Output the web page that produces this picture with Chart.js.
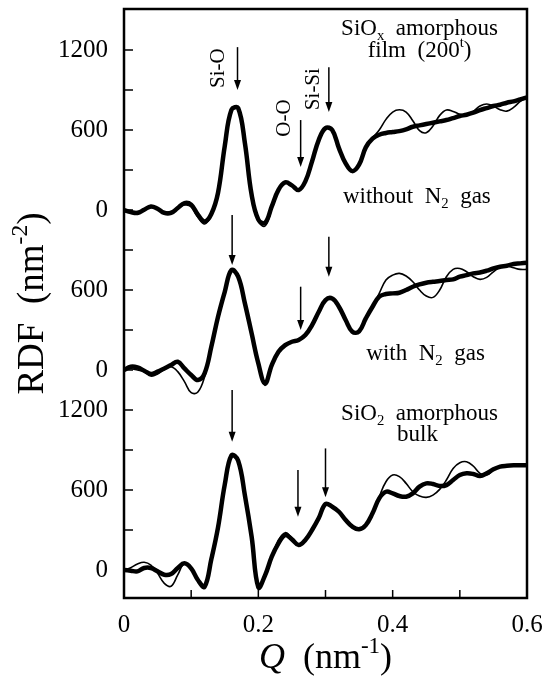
<!DOCTYPE html>
<html>
<head>
<meta charset="utf-8">
<title>RDF of SiOx films</title>
<script src="https://cdn.jsdelivr.net/npm/chart.js"></script>
<style>
  html, body { margin: 0; padding: 0; background: #fff; }
  canvas { display: block; }
</style>
</head>
<body>
<canvas id="rdfChart" width="549" height="691"></canvas>
<script>
// Q values (nm^-1), shared by every curve
const q = [
  0.00, 0.01, 0.02, 0.03, 0.04, 0.05, 0.06, 0.07, 0.08, 0.09,
  0.10, 0.11, 0.12, 0.13, 0.14, 0.15, 0.16, 0.17, 0.18, 0.19,
  0.20, 0.21, 0.22, 0.23, 0.24, 0.25, 0.26, 0.27, 0.28, 0.29,
  0.30, 0.31, 0.32, 0.33, 0.34, 0.35, 0.36, 0.37, 0.38, 0.39,
  0.40, 0.41, 0.42, 0.43, 0.44, 0.45, 0.46, 0.47, 0.48, 0.49,
  0.50, 0.51, 0.52, 0.53, 0.54, 0.55, 0.56, 0.57, 0.58, 0.59, 0.60,
];

// SiOx film without N2 gas (top)
const topExp = [
  0, -15, -22, 2, 27, 10, -22, -22, 15, 52, 40,
  -35, -85, -30, 130, 480, 752, 765, 502, 115, -72,
  -97, 27, 152, 207, 185, 150, 215, 365, 527, 615,
  600, 465, 350, 292, 340, 470, 535, 565, 578, 585,
  592, 605, 625, 635, 645, 655, 665, 675, 690, 705,
  715, 730, 750, 765, 780, 790, 805, 815, 830, 845,
];
const topCalc = [
  0, -10, -12, 5, 20, 10, -12, -12, 10, 38, 25,
  -55, -105, -40, 120, 475, 752, 765, 502, 110, -85,
  -120, 10, 148, 207, 185, 150, 215, 365, 527, 615,
  600, 465, 350, 292, 340, 470, 540, 600, 680, 735,
  752, 735, 670, 595, 580, 630, 710, 750, 740, 718,
  712, 740, 780, 795, 780, 752, 742, 770, 815, 845,
];

// SiOx film with N2 gas (middle)
const midExp = [
  0, 25, 20, -5, -30, -12, 12, 37, 62, 12, -37,
  -75, -25, 174, 400, 587, 750, 700, 500, 275, 50,
  -100, 37, 137, 187, 212, 225, 262, 337, 437, 525,
  537, 475, 375, 287, 290, 387, 475, 550, 570, 575,
  580, 600, 625, 642, 655, 662, 667, 675, 680, 700,
  712, 725, 732, 745, 762, 775, 782, 795, 800, 805,
];
const midCalc = [
  0, 10, 0, -12, -45, -30, 5, 25, -12, -87, -170,
  -165, -50, 162, 400, 587, 750, 700, 500, 275, 40,
  -115, 25, 137, 187, 212, 225, 262, 337, 437, 525,
  537, 475, 375, 287, 290, 387, 475, 575, 675, 712,
  725, 705, 662, 600, 555, 545, 600, 700, 755, 762,
  737, 700, 680, 695, 737, 770, 780, 767, 755, 755,
];

// SiO2 amorphous bulk (bottom)
const botExp = [
  0, -5, -10, 15, 15, -10, -35, -30, 15, 50, 12,
  -75, -125, 80, 320, 640, 860, 820, 560, 250, -130,
  -40, 100, 200, 262, 230, 187, 225, 300, 390, 495,
  475, 437, 375, 325, 305, 337, 425, 537, 587, 575,
  555, 550, 575, 625, 650, 645, 630, 637, 675, 712,
  725, 720, 705, 725, 755, 775, 782, 785, 785, 785,
];
const botCalc = [
  0, 17, 45, 58, 37, -25, -100, -122, -37, 50, 12,
  -75, -125, 80, 320, 640, 860, 820, 560, 250, -130,
  -40, 100, 225, 280, 240, 187, 225, 300, 390, 495,
  475, 437, 375, 325, 305, 337, 425, 550, 662, 712,
  700, 650, 587, 555, 545, 562, 605, 675, 762, 805,
  812, 780, 725, 712, 750, 780, 787, 787, 787, 787,
];

// vertical shift of each panel on the shared y axis
const panelOffsets = [2700, 1500, 0];

// tick values / labels
const xTickValues = [0, 0.1, 0.2, 0.3, 0.4, 0.5, 0.6];
const xTickLabels = ['0', '', '0.2', '', '0.4', '', '0.6'];
const yTickValues = [0, 300, 600, 900, 1200, 1500, 1800, 2100, 2400, 2700, 3000, 3300, 3600, 3900];
const yTickLabels = ['0', '', '600', '', '1200', '0', '', '600', '', '0', '', '600', '', '1200'];

// peak arrows (Q, from, to on the shifted axis)
const arrowQ = [0.169, 0.263, 0.305, 0.161, 0.263, 0.305, 0.161, 0.259, 0.300];
const arrowFrom = [3922, 3375, 3772, 2662, 2125, 2500, 1350, 750, 912];
const arrowTo = [3600, 3022, 3435, 2287, 1800, 2200, 962, 400, 545];

// rotated peak names above the top panel
const peakNames = ['Si-O', 'O-O', 'Si-Si'];
const peakNameQ = [0.141, 0.239, 0.282];
const peakNameY = [3765, 3390, 3607];

const serif = "'Liberation Serif', 'Times New Roman', serif";
const fontOf = (size, italic) => (italic ? 'italic ' : '') + size + 'px ' + serif;

// text pieces: [text, kind] with kind '', 'i', 'sup' or 'sub'
const notes = [
  { q: 0.440, v: 4012, parts: [['SiO', ''], ['x', 'sub'], ['  amorphous', '']] },
  { q: 0.440, v: 3850, parts: [['film  (200', ''], ['t', 'sup'], [')', '']] },
  { q: 0.436, v: 2752, parts: [['without  N', ''], ['2', 'sub'], ['  gas', '']] },
  { q: 0.449, v: 1575, parts: [['with  N', ''], ['2', 'sub'], ['  gas', '']] },
  { q: 0.440, v: 1125, parts: [['SiO', ''], ['2', 'sub'], ['  amorphous', '']] },
  { q: 0.437, v: 968, parts: [['bulk', '']] },
];

function drawRich(ctx, parts, x, y, size) {
  const segs = parts.map(([t, k]) => {
    const s = (k === 'sup' || k === 'sub') ? size * 0.64 : size;
    ctx.font = fontOf(s, k === 'i');
    return { t, k, s, w: ctx.measureText(t).width };
  });
  const total = segs.reduce((a, b) => a + b.w, 0);
  let cx = x - total / 2;
  ctx.textAlign = 'left';
  ctx.textBaseline = 'alphabetic';
  segs.forEach(p => {
    ctx.font = fontOf(p.s, p.k === 'i');
    const dy = p.k === 'sup' ? -size * 0.42 : (p.k === 'sub' ? size * 0.2 : 0);
    ctx.fillText(p.t, cx, y + dy);
    cx += p.w;
  });
}

const decorations = {
  id: 'decorations',
  afterDraw(chart) {
    const { ctx, chartArea: a, scales: { x, y } } = chart;
    ctx.save();
    ctx.strokeStyle = '#000';
    ctx.fillStyle = '#000';

    // frame
    ctx.lineWidth = 2.5;
    ctx.strokeRect(a.left, a.top, a.right - a.left, a.bottom - a.top);

    // inward tick marks
    ctx.lineWidth = 1.5;
    ctx.beginPath();
    y.ticks.forEach(t => {
      const py = y.getPixelForValue(t.value);
      ctx.moveTo(a.left, py);
      ctx.lineTo(a.left + 9, py);
    });
    x.ticks.forEach(t => {
      const px = x.getPixelForValue(t.value);
      ctx.moveTo(px, a.bottom);
      ctx.lineTo(px, a.bottom - 8);
    });
    ctx.stroke();

    // arrows
    arrowQ.forEach((qv, i) => {
      const px = x.getPixelForValue(qv);
      const y0 = y.getPixelForValue(arrowFrom[i]);
      const y1 = y.getPixelForValue(arrowTo[i]);
      ctx.lineWidth = 1.5;
      ctx.beginPath();
      ctx.moveTo(px, y0);
      ctx.lineTo(px, y1 - 8);
      ctx.stroke();
      ctx.beginPath();
      ctx.moveTo(px - 3.5, y1 - 10);
      ctx.lineTo(px + 3.5, y1 - 10);
      ctx.lineTo(px, y1);
      ctx.closePath();
      ctx.fill();
    });

    // peak names
    ctx.font = fontOf(21);
    ctx.textAlign = 'center';
    ctx.textBaseline = 'middle';
    peakNames.forEach((name, i) => {
      ctx.save();
      ctx.translate(x.getPixelForValue(peakNameQ[i]), y.getPixelForValue(peakNameY[i]));
      ctx.rotate(-Math.PI / 2);
      ctx.fillText(name, 0, 0);
      ctx.restore();
    });

    // panel notes
    notes.forEach(n => {
      drawRich(ctx, n.parts, x.getPixelForValue(n.q), y.getPixelForValue(n.v), 23);
    });

    // axis titles
    const midX = (a.left + a.right) / 2;
    const midY = (a.top + a.bottom) / 2;
    drawRich(ctx, [['Q', 'i'], ['  (nm', ''], ['-1', 'sup'], [')', '']], midX, a.bottom + 70, 36);
    ctx.save();
    ctx.translate(a.left - 81, midY);
    ctx.rotate(-Math.PI / 2);
    drawRich(ctx, [['RDF  (nm', ''], ['-2', 'sup'], [')', '']], 0, 0, 37);
    ctx.restore();

    ctx.restore();
  },
};

function curve(values, offset, width) {
  return {
    data: q.map((qv, i) => ({ x: qv, y: values[i] + offset })),
    borderColor: '#000',
    borderWidth: width,
    pointRadius: 0,
    tension: 0.4,
    fill: false,
  };
}

const datasets = [
  curve(topCalc, panelOffsets[0], 1.6),
  curve(topExp, panelOffsets[0], 4.5),
  curve(midCalc, panelOffsets[1], 1.6),
  curve(midExp, panelOffsets[1], 4.5),
  curve(botCalc, panelOffsets[2], 1.6),
  curve(botExp, panelOffsets[2], 4.5),
];

const tickFont = { family: serif, size: 25 };

// keep the plot area exactly where the layout padding puts it
function noEdgePadding(s) {
  s.paddingTop = 0;
  s.paddingBottom = 0;
  s.paddingLeft = 0;
  s.paddingRight = 0;
}

new Chart(document.getElementById('rdfChart').getContext('2d'), {
  type: 'line',
  data: { datasets },
  options: {
    responsive: false,
    animation: false,
    devicePixelRatio: 1,
    layout: { padding: { top: 9, right: 22, bottom: 0, left: 0 } },
    plugins: { legend: { display: false }, tooltip: { enabled: false } },
    scales: {
      x: {
        type: 'linear',
        min: 0,
        max: 0.6,
        afterBuildTicks: s => { s.ticks = xTickValues.map(v => ({ value: v })); },
        afterFit: s => { s.height = 93; noEdgePadding(s); },
        grid: { display: false, drawTicks: false },
        border: { display: false },
        ticks: {
          callback: (v, i) => xTickLabels[i],
          color: '#000',
          font: tickFont,
          padding: 12,
          maxRotation: 0,
          autoSkip: false,
        },
      },
      y: {
        type: 'linear',
        min: -210,
        max: 4208,
        afterBuildTicks: s => { s.ticks = yTickValues.map(v => ({ value: v })); },
        afterFit: s => { s.width = 124; noEdgePadding(s); },
        grid: { display: false, drawTicks: false },
        border: { display: false },
        ticks: {
          callback: (v, i) => yTickLabels[i],
          color: '#000',
          font: tickFont,
          padding: 16,
          autoSkip: false,
        },
      },
    },
  },
  plugins: [decorations],
});
</script>
</body>
</html>
